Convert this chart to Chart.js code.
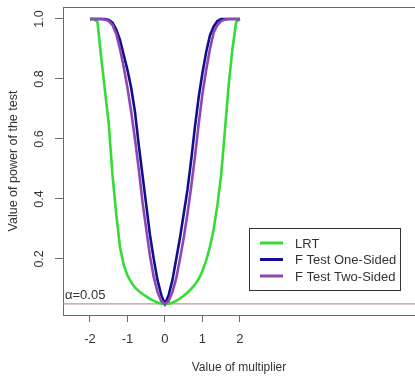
<!DOCTYPE html>
<html>
<head>
<meta charset="utf-8">
<script src="https://cdn.jsdelivr.net/npm/chart.js@4/dist/chart.umd.min.js"></script>
<style>
  html, body { margin: 0; padding: 0; background: #fff; }
  #powerChart { display: block; }
</style>
</head>
<body>
<canvas id="powerChart" width="415" height="377"></canvas>
<script>
const multiplier = [-2.0, -1.9, -1.8, -1.7, -1.6, -1.5, -1.4, -1.3, -1.2, -1.1, -1.0,
  -0.9, -0.8, -0.7, -0.6, -0.5, -0.4, -0.3, -0.2, -0.1, 0.0,
  0.1, 0.2, 0.3, 0.4, 0.5, 0.6, 0.7, 0.8, 0.9, 1.0,
  1.1, 1.2, 1.3, 1.4, 1.5, 1.6, 1.7, 1.8, 1.9, 2.0];

const lrtPower = [1.0, 1.0, 0.99, 0.87, 0.76, 0.65, 0.48, 0.35, 0.24, 0.18, 0.145,
  0.122, 0.105, 0.093, 0.083, 0.075, 0.067, 0.06, 0.055, 0.051, 0.05,
  0.051, 0.054, 0.06, 0.068, 0.077, 0.088, 0.1, 0.115, 0.133, 0.16,
  0.195, 0.24, 0.3, 0.38, 0.48, 0.63, 0.78, 0.9, 0.99, 1.0];

const oneSidedPower = [1.0, 1.0, 1.0, 1.0, 1.0, 0.997, 0.988, 0.965, 0.93, 0.88, 0.83,
  0.77, 0.69, 0.58, 0.48, 0.38, 0.28, 0.2, 0.13, 0.08, 0.05,
  0.08, 0.13, 0.2, 0.27, 0.35, 0.43, 0.53, 0.64, 0.74, 0.82,
  0.89, 0.945, 0.975, 0.993, 1.0, 1.0, 1.0, 1.0, 1.0, 1.0];

const twoSidedPower = [1.0, 1.0, 1.0, 1.0, 0.998, 0.993, 0.98, 0.95, 0.9, 0.84, 0.77,
  0.69, 0.6, 0.5, 0.39, 0.3, 0.21, 0.14, 0.09, 0.06, 0.05,
  0.06, 0.09, 0.135, 0.2, 0.27, 0.35, 0.44, 0.54, 0.65, 0.75,
  0.83, 0.9, 0.955, 0.98, 0.993, 0.998, 1.0, 1.0, 1.0, 1.0];

const seriesNames = ['LRT', 'F Test One-Sided', 'F Test Two-Sided'];
const alpha = 0.05;
const alphaLabel = 'α=0.05';

const xTicks = [-2, -1, 0, 1, 2];
const xTickLabels = ['-2', '-1', '0', '1', '2'];
const yTicks = [0.2, 0.4, 0.6, 0.8, 1.0];
const yTickLabels = ['0.2', '0.4', '0.6', '0.8', '1.0'];

const xMin = -2.72, xMax = 6.67;
const yMin = 0.013, yMax = 1.04;

const FONT = '"Liberation Sans", Arial, sans-serif';
const axisColor = '#6a6a6a';
const textColor = '#333';

function points(ys) {
  return multiplier.map((x, i) => ({ x: x, y: ys[i] }));
}

// frame top line, alpha label and the boxed legend (R style)
const rExtras = {
  id: 'rExtras',
  afterDraw(chart) {
    const ctx = chart.ctx;
    const a = chart.chartArea;
    const ys = chart.scales.y;
    ctx.save();
    ctx.strokeStyle = axisColor;
    ctx.lineWidth = 1;
    ctx.beginPath();
    ctx.moveTo(a.left, a.top + 0.5);
    ctx.lineTo(a.right, a.top + 0.5);
    ctx.stroke();

    ctx.fillStyle = textColor;
    ctx.font = '13px ' + FONT;
    ctx.textAlign = 'left';
    ctx.textBaseline = 'middle';
    ctx.fillText(alphaLabel, a.left + 2, ys.getPixelForValue(alpha) - 8);

    // legend
    const boxL = 249, boxT = 228, boxW = 151, boxH = 62;
    ctx.fillStyle = '#fff';
    ctx.fillRect(boxL, boxT, boxW, boxH);
    ctx.strokeStyle = '#333';
    ctx.strokeRect(boxL + 0.5, boxT + 0.5, boxW, boxH);
    const ds = chart.data.datasets.filter(d => seriesNames.includes(d.label));
    ds.forEach((d, i) => {
      const y = boxT + 15 + i * 16.5;
      ctx.strokeStyle = d.borderColor;
      ctx.lineWidth = 3;
      ctx.beginPath();
      ctx.moveTo(boxL + 11, y);
      ctx.lineTo(boxL + 34, y);
      ctx.stroke();
      ctx.fillStyle = textColor;
      ctx.font = '13px ' + FONT;
      ctx.fillText(d.label, boxL + 46, y + 1);
    });
    ctx.restore();
  }
};

const ctx = document.getElementById('powerChart').getContext('2d');

new Chart(ctx, {
  type: 'line',
  data: {
    datasets: [
      {
        label: seriesNames[0],
        data: points(lrtPower),
        borderColor: '#35dc35',
        borderWidth: 2.6,
        pointRadius: 0,
        order: 3
      },
      {
        label: seriesNames[1],
        data: points(oneSidedPower),
        borderColor: '#10108c',
        borderWidth: 2.6,
        pointRadius: 0,
        order: 2
      },
      {
        label: seriesNames[2],
        data: points(twoSidedPower),
        borderColor: '#9045b4',
        borderWidth: 2.6,
        pointRadius: 0,
        order: 1
      },
      {
        label: 'alpha',
        data: [{ x: xMin, y: alpha }, { x: xMax, y: alpha }],
        borderColor: '#c99090',
        borderWidth: 1.2,
        pointRadius: 0,
        order: 4
      }
    ]
  },
  options: {
    responsive: false,
    animation: false,
    layout: { padding: { top: 7, right: 0, bottom: 0, left: 0 } },
    plugins: {
      legend: { display: false },
      tooltip: { enabled: false }
    },
    scales: {
      x: {
        type: 'linear',
        min: xMin,
        max: xMax,
        afterBuildTicks: s => { s.ticks = xTicks.map(v => ({ value: v })); },
        afterFit: s => { s.height = 62; s.paddingLeft = 0; s.paddingRight = 0; },
        ticks: {
          callback: (v, i) => xTickLabels[i],
          color: textColor,
          font: { family: FONT, size: 13 },
          padding: 10,
          maxRotation: 0
        },
        grid: { display: true, drawOnChartArea: false, tickLength: 7, color: axisColor },
        border: { display: true, color: axisColor },
        title: {
          display: true,
          text: 'Value of multiplier',
          color: textColor,
          font: { family: FONT, size: 12 },
          padding: { top: 0, bottom: 2 }
        }
      },
      y: {
        type: 'linear',
        min: yMin,
        max: yMax,
        afterBuildTicks: s => { s.ticks = yTicks.map(v => ({ value: v })); },
        afterFit: s => { s.width = 63; s.paddingTop = 0; s.paddingBottom = 0; },
        ticks: {
          callback: (v, i) => yTickLabels[i],
          color: textColor,
          font: { family: FONT, size: 12.5 },
          minRotation: 90,
          maxRotation: 90,
          crossAlign: 'center',
          padding: 7
        },
        grid: { display: true, drawOnChartArea: false, tickLength: 8, color: axisColor },
        border: { display: true, color: axisColor },
        title: {
          display: true,
          text: 'Value of power of the test',
          color: textColor,
          font: { family: FONT, size: 12.5 },
          padding: { top: 6, bottom: 0 }
        }
      }
    }
  },
  plugins: [rExtras]
});
</script>
</body>
</html>
